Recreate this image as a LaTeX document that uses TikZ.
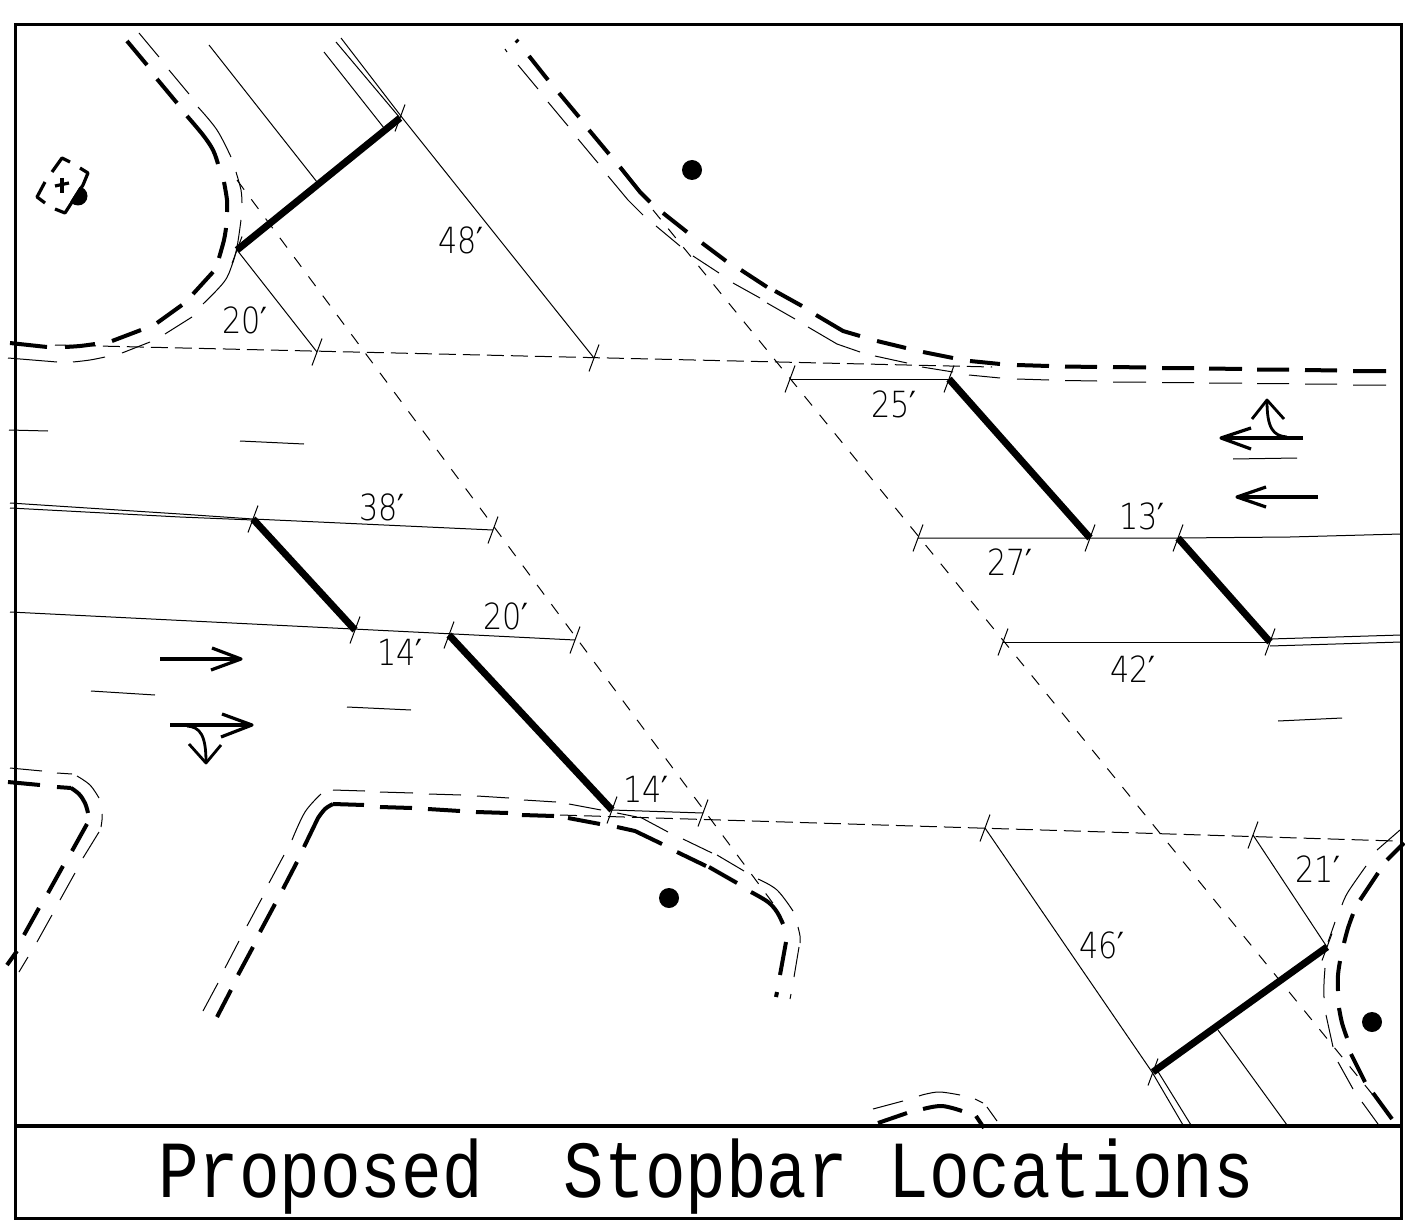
\documentclass[tikz,border=0pt]{standalone}
\usepackage{fontspec}
\usepackage{graphicx}
\newfontfamily\titlefont{Liberation Mono}
\newfontfamily\dimfont{DejaVu Sans ExtraLight}
\newfontfamily\primefont{DejaVu Sans}
\newcommand{\tk}[2]{\draw[thinln] (#1-5,#2+13.5) -- (#1+5,#2-13.5);}
\newcommand{\dimtext}[1]{\scalebox{0.84}[1]{\dimfont\fontsize{36}{36}\selectfont #1{\primefont ′}}}
\tikzset{
  x=1pt,y=-1pt,
  frameln/.style={line width=3pt,black},
  thinln/.style={line width=1pt,black},
  curbthick/.style={line width=4pt,line join=round},
  curbthin/.style={line width=1pt,line join=round},
  trackh/.style={line width=1pt,dash pattern=on 17pt off 7pt},
  trackd/.style={line width=1pt,dash pattern=on 12pt off 12pt},
  stopbar/.style={line width=7pt},
  arrowln/.style={line width=3.2pt,line join=round},
  hookln/.style={line width=2.8pt,line join=round},
  dimlabel/.style={inner sep=0pt,anchor=center},
  curve/.style={smooth,tension=0.6}
}
\begin{document}
\begin{tikzpicture}
\useasboundingbox (0,0) rectangle (1405,1225);
% frame
\draw[frameln] (15,25) rectangle (1401,1218);
\draw[line width=4pt] (15,1126) -- (1401,1126);
% top-left island
\draw[curbthick] (127,41)--(147,65) (157,79)--(177,103)
  plot[curve] coordinates {(187,116) (203,135) (213,150) (218,164)}
  plot[curve] coordinates {(224,182) (227,200) (227,212)}
  plot[curve] coordinates {(226,228) (224,240) (219,258)}
  (213,272)--(193,294) (182,305)--(157,323) (141,330)--(112,341)
  plot[curve] coordinates {(95,344) (80,346) (65,347)}
  (47,347)--(10,343);
\draw[curbthin] (139,33)--(159,57) (169,70)--(189,94)
  plot[curve] coordinates {(198,107) (217,130) (231,157)}
  plot[curve] coordinates {(236,172) (241,190) (242,203)}
  plot[curve] coordinates {(241,220) (237,247) (232,265) (224,282) (203,304)}
  (192,317)--(165,334) (150,342)--(122,353)
  plot[curve] coordinates {(105,357) (90,360) (73,362)}
  (57,362)--(8,358);
% top-right curb
\draw[curbthick] (516,40)--(518,42) (529,56)--(548,80) (559,93)--(579,117) (589,130)--(609,154)
  (620,167)--(640,192)--(650,202) (663,213)--(687,232) (702,243)--(726,261) (741,270)--(767,287) (775,291)--(802,306)
  (816,315)--(843,331)--(860,336) (877,341)--(906,348) (923,352)--(953,358) (970,361)--(1000,364)
  (1017,365)--(1049,366) (1065,366.5)--(1097,367) (1113,367)--(1146,367.5) (1162,368)--(1194,368) (1209,368.5)--(1242,369)
  (1257,369.5)--(1289,369.5) (1305,370)--(1337,370.5) (1353,371)--(1386,371);
\draw[curbthin] (505,49)--(507,52) (518,65)--(538,89) (548,102)--(568,126) (578,139)--(598,163)
  (608,176)--(628,200)--(643,215) (656,226)--(680,246) (693,256)--(719,273) (733,283)--(760,298) (767,303)--(795,319)
  (808,327)--(837,344)--(860,352) (875,356)--(907,363) (922,367)--(953,372) (969,375)--(1000,378)
  (1017,379)--(1049,380) (1065,380.5)--(1097,381) (1113,382)--(1146,382) (1162,382.5)--(1194,382.5) (1209,383)--(1242,383)
  (1257,383.5)--(1289,383.5) (1305,384)--(1337,384) (1353,385)--(1386,385);
% bottom-left island
\draw[curbthick] (8,782)--(40,785)
  (57,787)--(71,788)
  plot[curve] coordinates {(71,788) (79,794) (85,803) (88,813)}
  (87,824)--(72,851) (63,866)--(48,893) (39,908)--(24,935) (17,951)--(7,965);
\draw[curbthin] (10,768)--(42,771) (57,773)--(72,774)
  plot[curve] coordinates {(77,776) (90,785) (99,798)}
  plot[curve] coordinates {(102,814) (102,820) (101,827)}
  (99,832)--(83,858) (75,873)--(60,900) (52,915)--(37,942) (28,957)--(19,972);
% bottom-centre island
\draw[curbthick] (217,1017)--(231,990) (238,975)--(253,947) (260,932)--(275,904) (283,889)--(297,862)
  (304,847)--(318,818)
  plot[curve] coordinates {(318,818) (325,809) (333,804)}
  (333,804)--(364,805) (380,807)--(412,808) (428,809)--(460,811) (476,812)--(508,813) (522,815)--(554,816)
  (568,818)--(600,824) (617,827)--(635,831)--(662,844) (677,852)--(706,866) (709,867)--(737,883)
  plot[curve] coordinates {(751,892) (768,902) (777,912) (783,924)}
  (786,942)--(780,975) (777,992)--(776,997);
\draw[curbthin] (203,1011)--(218,983) (225,968)--(239,941) (247,926)--(262,898) (269,883)--(284,855)
  plot[curve] coordinates {(292,840) (305,812) (321,794)}
  (333,790)--(365,791) (380,792)--(413,793) (429,794)--(461,795) (477,796)--(509,798) (524,800)--(556,802)
  (569,804)--(601,810) (617,813)--(637,817) (640,817)--(668,832) (683,839)--(712,853) (717,855)--(744,871)
  plot[curve] coordinates {(758,879) (777,890) (793,911)}
  plot[curve] coordinates {(798,927) (800,936) (800,943)}
  (799,947)--(794,977) (791,994)--(790,999);
% bottom-right island
\draw[curbthick] (1404,843)--(1387,860) (1378,873)--(1360,900)
  plot[curve] coordinates {(1353,914) (1348,928) (1344,943)}
  plot[curve] coordinates {(1340,961) (1338,975) (1338,991)}
  plot[curve] coordinates {(1339,1008) (1342,1023) (1347,1038)}
  (1351,1054)--(1365,1082) (1373,1093)--(1392,1119);
\draw[curbthin] (1400,830)--(1377,850)
  plot[curve] coordinates {(1366,866) (1348,892) (1342,905)}
  (1335,922)--(1328,942)
  plot[curve] coordinates {(1325,968) (1324,983) (1324,998)}
  (1326,1015)--(1333,1047) (1338,1062)--(1353,1089) (1362,1102)--(1378,1124);
% bottom mini curb
\draw[curbthick] (878,1123)--(907,1113)
  plot[curve] coordinates {(923,1109) (942,1106) (962,1111)}
  (976,1116)--(984,1128);
\draw[curbthin] (873,1109)--(903,1101)
  plot[curve] coordinates {(919,1096) (926,1094) (940,1092) (960,1095)}
  (975,1099)--(983,1103) (987,1107)--(997,1121);
% tracks
\draw[trackh] (55,345) -- (992,367);
\draw[trackh] (560,815) -- (1395,841);
\draw[trackd] (237,180) -- (775,906);
\draw[trackd] (653,210) -- (1390,1116);
% thin solid lines
\draw[thinln] (209,45) -- (317,182);
\draw[thinln] (324,52) -- (384,128);
\draw[thinln] (336,42) -- (400,118);
\draw[thinln] (341,38) -- (404,120) -- (594,358);
\draw[thinln] (237,250) -- (317,352);
\draw[thinln] (790,379) -- (949,379);
\draw[thinln] (918,538) -- (1178,538) -- (1290,537) -- (1401,534);
\draw[thinln] (1003,642) -- (1270,642);
\draw[thinln] (1270,639) -- (1401,635);
\draw[thinln] (1270,646) -- (1401,642);
\draw[thinln] (10,503) -- (180,514) -- (253,519) -- (493,530);
\draw[thinln] (10,508) -- (180,517) -- (253,520);
\draw[thinln] (10,612) -- (575,640);
\draw[thinln] (612,810) -- (703,813);
\draw[thinln] (985,828) -- (1152,1072) -- (1183,1125);
\draw[thinln] (1157,1070) -- (1191,1125);
\draw[thinln] (1253,835) -- (1327,947);
\draw[thinln] (1218,1030) -- (1287,1125);
% lane lines
\draw[thinln] (9,430) -- (48,431);
\draw[thinln] (240,441) -- (304,444);
\draw[thinln] (1233,459) -- (1297,458);
\draw[thinln] (91,691) -- (155,695);
\draw[thinln] (347,707) -- (411,710);
\draw[thinln] (1278,721) -- (1342,718);
% ticks
\tk{317}{352}\tk{594}{358}\tk{400}{118}\tk{237}{250}
\tk{790}{379}\tk{949}{379}\tk{918}{538}\tk{1090}{538}\tk{1178}{538}
\tk{1003}{642}\tk{1270}{642}\tk{253}{519}\tk{493}{530}\tk{355}{630}
\tk{449}{635}\tk{575}{640}\tk{612}{810}\tk{703}{813}\tk{985}{828}
\tk{1253}{835}\tk{1327}{947}\tk{1153}{1072}
% stop bars
\draw[stopbar] (237,250) -- (400,118);
\draw[stopbar] (949,379) -- (1090,538);
\draw[stopbar] (1178,538) -- (1270,642);
\draw[stopbar] (253,519) -- (355,630);
\draw[stopbar] (449,635) -- (612,810);
\draw[stopbar] (1153,1072) -- (1327,947);
% lane arrows
\draw[arrowln] (1303,438) -- (1222,438);
\draw[arrowln] (1251,428) -- (1221,438) -- (1251,449);
\draw[hookln] (1287,437) .. controls (1273,436) and (1267,428) .. (1267,401);
\draw[hookln] (1252,419) -- (1267,400) -- (1284,419);
\draw[arrowln] (1318,497) -- (1238,497);
\draw[arrowln] (1266,487) -- (1237,497) -- (1266,507);
\draw[arrowln] (160,659) -- (240,659);
\draw[arrowln] (212,648) -- (241,659) -- (211,670);
\draw[arrowln] (170,725) -- (251,725);
\draw[arrowln] (222,714) -- (252,725) -- (221,737);
\draw[hookln] (187,726) .. controls (200,727) and (206,735) .. (206,762);
\draw[hookln] (189,744) -- (206,763) -- (221,745);
% dots
\fill (692,170) circle (10);
\fill (78,196) circle (9.5);
\fill (669,898) circle (10);
\fill (1372,1022) circle (10);
% survey mark
\fill[white] (62,158) -- (88,173) -- (63,213) -- (37,197) -- cycle;
\draw[arrowln] (52,172) -- (62,158) -- (70,162);
\draw[arrowln] (80,168) -- (88,173) -- (83,185) -- (65,213) -- (55,209);
\draw[arrowln] (45,182) -- (37,197) -- (45,203);
\draw[arrowln] (55,186) -- (69,183);
\draw[arrowln] (62,178) -- (62,193);
% dimensions
\node[dimlabel] (d48) at (461,240) {\dimtext{48}};
\node[dimlabel] (d20a) at (245,320) {\dimtext{20}};
\node[dimlabel] (d25) at (894,404) {\dimtext{25}};
\node[dimlabel] (d38) at (382,507) {\dimtext{38}};
\node[dimlabel] (d13) at (1142,516) {\dimtext{13}};
\node[dimlabel] (d27) at (1010,562) {\dimtext{27}};
\node[dimlabel] (d20b) at (506,616) {\dimtext{20}};
\node[dimlabel] (d14a) at (400,652) {\dimtext{14}};
\node[dimlabel] (d42) at (1133,669) {\dimtext{42}};
\node[dimlabel] (d14b) at (646,789) {\dimtext{14}};
\node[dimlabel] (d21) at (1318,869) {\dimtext{21}};
\node[dimlabel] (d46) at (1102,945) {\dimtext{46}};
% title
\node[inner sep=0pt,anchor=base] (title) at (706,1197) {\scalebox{0.835}[1]{\titlefont\fontsize{81}{81}\selectfont Proposed~~Stopbar Locations}};
\end{tikzpicture}
\end{document}
